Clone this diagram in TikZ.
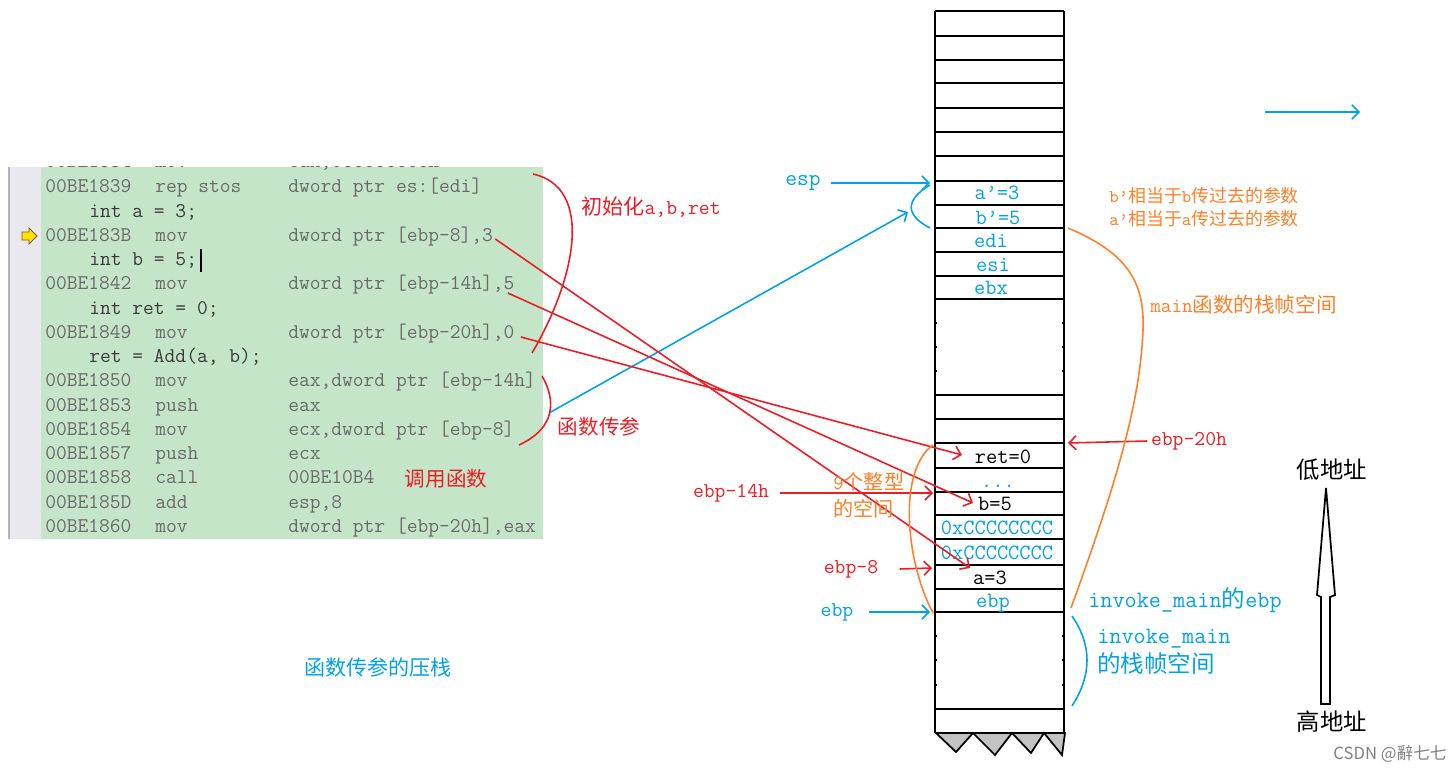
\documentclass[tikz,border=0pt]{standalone}
\usepackage{fontspec}
\usetikzlibrary{arrows.meta}
\newfontfamily\cjk{Noto Sans CJK SC}

\definecolor{pblue}{HTML}{00A2E8}
\definecolor{pred}{HTML}{ED1C24}
\definecolor{porange}{HTML}{FF7F27}
\definecolor{codebg}{HTML}{C4E5C7}
\definecolor{codegray}{HTML}{6A6A6A}
\definecolor{srcgray}{HTML}{3A3A3A}
\definecolor{guttergray}{HTML}{E8E8EE}
\definecolor{sawgray}{HTML}{C3C3C3}

\begin{document}
\begin{tikzpicture}[x=0.02cm, y=-0.02cm,
  codetxt/.style={anchor=west, inner sep=0pt, text=codegray, font=\ttfamily\fontsize{11.9}{14}\selectfont, text height=8pt, text depth=2pt},
  lbl/.style={inner sep=0pt, font=\ttfamily\fontsize{12}{14}\selectfont},
  cell/.style={lbl, font=\ttfamily\fontsize{12.4}{14}\selectfont, text height=8.5pt, text depth=0.5pt},
  zh/.style={inner sep=0pt, font=\cjk\fontsize{11.7}{14}\selectfont},
  ptr/.style={line width=0.9pt, -{Straight Barb[length=1.4mm,width=2.8mm]}},
  brace/.style={line width=0.9pt},
  stackline/.style={line width=1pt, black}]
\useasboundingbox (0,0) rectangle (1455,770);

% code window
\fill[guttergray] (8,167) rectangle (41,539);
\draw[gray!60, line width=0.8pt] (9,167) -- (9,539);
\fill[codebg] (41,167) rectangle (543,539);
\begin{scope}
\clip (8,167) rectangle (543,539);
\node[codetxt] (ad0) at (45,162) {00BE1834};
\node[codetxt] (mn0) at (155,162) {mov};
\node[codetxt] (op0) at (288,162) {eax,0CCCCCCCCh};
\end{scope}
\foreach \yy/\ad/\mn/\op [count=\i] in {
  187/00BE1839/rep stos/{dword ptr es:[edi]},
  236/00BE183B/mov/{dword ptr [ebp-8],3},
  284/00BE1842/mov/{dword ptr [ebp-14h],5},
  333/00BE1849/mov/{dword ptr [ebp-20h],0},
  381/00BE1850/mov/{eax,dword ptr [ebp-14h]},
  406/00BE1853/push/eax,
  430/00BE1854/mov/{ecx,dword ptr [ebp-8]},
  454/00BE1857/push/ecx,
  478/00BE1858/call/00BE10B4,
  503/00BE185D/add/{esp,8},
  527/00BE1860/mov/{dword ptr [ebp-20h],eax}}{
  \node[codetxt] (ad\i) at (45,\yy) {\ad};
  \node[codetxt] (mn\i) at (155,\yy) {\mn};
  \node[codetxt] (op\i) at (288,\yy) {\op};
}
\node[codetxt, text=srcgray] (srca) at (89,212) {int a = 3;};
\node[codetxt, text=srcgray] (srcb) at (89,260) {int b = 5;};
\node[codetxt, text=srcgray] (srcr) at (89,309) {int ret = 0;};
\node[codetxt, text=srcgray] (srcc) at (89,357) {ret = Add(a, b);};
\draw[black, line width=0.7pt] (201,249) -- (201,272);
\filldraw[fill=yellow!85!orange, draw=brown!70!black, line width=0.5pt]
  (22,232) -- (29,232) -- (29,228) -- (37,236) -- (29,244) -- (29,240) -- (22,240) -- cycle;

% stack
\foreach \yy in {11,36,60,83,108,132,156,181,205,228,252,276,299,395,419,443,468,492,515,539,565,589,612,709,733}
  \draw[stackline] (935,\yy) -- (1064,\yy);
\draw[stackline] (935,11) -- (935,733);
\draw[stackline] (1064,11) -- (1064,733);
\foreach \yy in {323,347,371,636,660,685}{
  \draw[stackline] (935,\yy) -- ++(2,0);
  \draw[stackline] (1064,\yy) -- ++(-2,0);
}
\filldraw[fill=sawgray, draw=black, line width=1pt]
  (936,733) -- (956,752) -- (973,733) -- (995,755) -- (1012,733) -- (1031,753) -- (1044,733) -- (1062,755) -- (1065,733) -- cycle;

\node[cell, text=pblue] (aprime) at (997,192) {a’=3};
\node[cell, text=pblue] (bprime) at (998,217) {b’=5};
\node[cell, text=pblue] (edi) at (991,240) {edi};
\node[cell, text=pblue] (esi) at (993,264) {esi};
\node[cell, text=pblue] (ebx) at (991,287) {ebx};
\node[cell] (retval) at (1003,456) {ret=0};
\node[cell, text=pblue] (dots) at (998,480) {...};
\node[cell] (bval) at (995,503) {b=5};
\node[cell, text=pblue] (ccone) at (997,527) {0xCCCCCCCC};
\node[cell, text=pblue] (cctwo) at (997,552) {0xCCCCCCCC};
\node[cell] (aval) at (990,577) {a=3};
\node[cell, text=pblue] (ebpval) at (993,600) {ebp};

% pointers into the stack
\coordinate (esptip) at (930,183);
\coordinate (espbr) at (908,212);
\coordinate (rettip) at (962,455);
\coordinate (btip) at (973,503);
\coordinate (atip) at (970,568);
\coordinate (argsmid) at (549,413);

\node[lbl, text=pblue, font=\ttfamily\fontsize{13}{15}\selectfont] (esp) at (803,183) {esp};
\draw[ptr, pblue] (esp.east) ++(10,0) -- (esptip);
\draw[brace, pblue] (930,185) .. controls (905,200) and (905,215) .. (930,228);
\draw[ptr, pblue] (argsmid) -- (espbr);

\draw[ptr, pred] ([shift={(2,3)}]op2.east) -- (atip);
\draw[ptr, pred] ([shift={(-7,9)}]op3.east) -- (btip);
\draw[ptr, pred] ([shift={(6,4)}]op4.east) -- (rettip);

\draw[brace, pred] (533,174) .. controls (595,188) and (575,280) .. (532,353);
\draw[brace, pred] (542,376) .. controls (556,400) and (556,428) .. (519,445);
\node[lbl, text=pred] (initlbl) at (651,207) {{\cjk 初始化}a,b,ret};
\node[zh, text=pred] (argslbl) at (599,427) {函数传参};
\node[zh, text=pred] (calllbl) at (446,479) {调用函数};
\node[zh, text=pblue, font=\cjk\fontsize{12}{14}\selectfont] (pushlbl) at (378,667) {函数传参的压栈};

\coordinate (r20) at (1068,443);
\coordinate (r14) at (933,493);
\coordinate (r8) at (932,568);
\coordinate (rebp) at (930,612);
\node[lbl, text=pred] (ebp20) at (1189,441) {ebp-20h};
\draw[ptr, pred] ([xshift=-2]ebp20.west) -- (r20);
\node[lbl, text=pred] (ebp14) at (731,493) {ebp-14h};
\draw[ptr, pred] ([xshift=6]ebp14.east) -- (r14);
\node[lbl, text=pred] (ebp8) at (851,569) {ebp-8};
\draw[ptr, pred] ([xshift=12]ebp8.east) -- (r8);
\node[lbl, text=pblue] (ebpl) at (837,612) {ebp};
\draw[ptr, pblue] ([xshift=9]ebpl.east) -- (rebp);

% frame notes
\node[lbl, anchor=west, text=porange, align=left, font=\ttfamily\fontsize{11.5}{15.4}\selectfont] (ninelbl) at (833,495) {9{\cjk 个整型}\\{\cjk 的空间}};
\draw[brace, porange] (933,445) .. controls (898,470) and (905,560) .. (933,613);
\draw[brace, porange] (1068,228) .. controls (1125,252) and (1145,280) .. (1143,330) .. controls (1140,410) and (1110,500) .. (1071,608);
\node[lbl, anchor=west, text=porange, font=\ttfamily\fontsize{10.2}{12}\selectfont] (bnote) at (1109,196) {b’{\cjk 相当于}b{\cjk 传过去的参数}};
\node[lbl, anchor=west, text=porange, font=\ttfamily\fontsize{10.2}{12}\selectfont] (anote) at (1109,219) {a’{\cjk 相当于}a{\cjk 传过去的参数}};
\node[lbl, anchor=west, text=porange, font=\ttfamily\fontsize{11.7}{14}\selectfont] (mainlbl) at (1150,305) {main{\cjk 函数的栈帧空间}};

\node[lbl, anchor=west, text=pblue, font=\ttfamily\fontsize{13.4}{16}\selectfont] (invebp) at (1088,600) {invoke\_main{\cjk 的}ebp};
\draw[brace, pblue] (1072,616) .. controls (1092,645) and (1092,675) .. (1072,706);
\node[lbl, anchor=west, text=pblue, align=left, font=\ttfamily\fontsize{13.4}{16.5}\selectfont] (invlbl) at (1097,652) {invoke\_main\\{\cjk 的栈帧空间}};

% address direction
\coordinate (topa) at (1265,112);
\coordinate (topb) at (1360,112);
\draw[ptr, pblue] (topa) -- (topb);
\filldraw[fill=white, draw=black, line width=1pt]
  (1321,704) -- (1321,597) -- (1317,595) -- (1326,488) -- (1335,595) -- (1330,597) -- (1330,704) -- cycle;
\node[zh, text=black, font=\cjk\fontsize{13.3}{16}\selectfont] (lowaddr) at (1332,470) {低地址};
\node[zh, text=black, font=\cjk\fontsize{13.3}{16}\selectfont] (highaddr) at (1332,722) {高地址};
\node[zh, text=gray, font=\cjk\fontsize{9.5}{12}\selectfont] (mark) at (1390,754) {CSDN @辭七七};
\end{tikzpicture}
\end{document}
